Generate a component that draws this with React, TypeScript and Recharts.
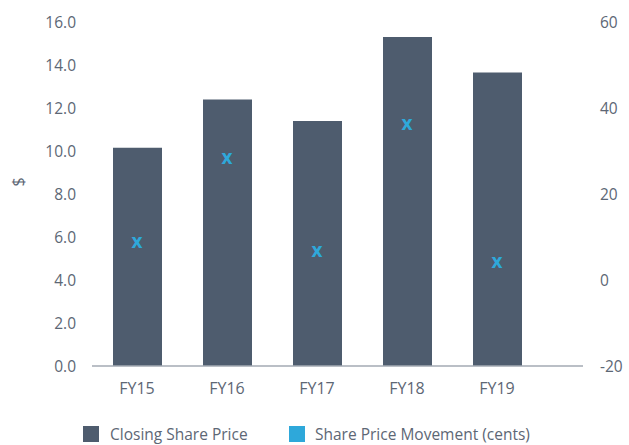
import React from 'react'
import {
  ComposedChart,
  Bar,
  Scatter,
  XAxis,
  YAxis,
  Legend,
} from 'recharts'

const years = ['FY15', 'FY16', 'FY17', 'FY18', 'FY19']
const closingPrice = [10.15, 12.4, 11.4, 15.3, 13.65]
const priceMovement = [9, 28.5, 7, 36.5, 4.5]
const leftTicks = [0, 2, 4, 6, 8, 10, 12, 14, 16]
const rightTicks = [-20, 0, 20, 40, 60]

const data = years.map((year, i) => ({
  year,
  closing: closingPrice[i],
  movement: priceMovement[i],
}))

const FONT = '"Open Sans", sans-serif'
const TEXT = '#5d6775'
const BAR = '#4e5c6e'
const MARK = '#2ea8da'

const CrossMark = (props: any) => {
  const { cx, cy } = props
  return (
    <text
      x={cx}
      y={cy}
      textAnchor="middle"
      dominantBaseline="central"
      fontFamily={FONT}
      fontWeight={700}
      fontSize={19}
      fill={MARK}
    >
      x
    </text>
  )
}

// rotated "$" unit label, a little above the middle of the axis
const DollarLabel = (props: any) => {
  const { viewBox } = props
  const x = viewBox.x + 18
  const y = viewBox.y + viewBox.height / 2 - 12
  return (
    <text
      x={x}
      y={y}
      transform={`rotate(-90 ${x} ${y})`}
      textAnchor="middle"
      dominantBaseline="central"
      fontFamily={FONT}
      fontSize={16}
      fill={TEXT}
    >
      $
    </text>
  )
}

const renderLegend = () => (
  <div style={{ position: 'relative', height: 24, fontFamily: FONT, fontSize: 15.5, color: TEXT }}>
    <span style={{ position: 'absolute', left: 83, top: 5, width: 16, height: 16, background: BAR }} />
    <span style={{ position: 'absolute', left: 110, top: 2, whiteSpace: 'nowrap' }}>Closing Share Price</span>
    <span style={{ position: 'absolute', left: 289, top: 5, width: 16, height: 16, background: MARK }} />
    <span style={{ position: 'absolute', left: 315, top: 2, whiteSpace: 'nowrap' }}>Share Price Movement (cents)</span>
  </div>
)

export default function App() {
  return (
    <div style={{ position: 'absolute', left: 0, top: 0 }}>
      <ComposedChart
        width={629}
        height={445}
        data={data}
        margin={{ top: 22, right: 0, left: 0, bottom: 0 }}
      >
        <XAxis
          dataKey="year"
          axisLine={{ stroke: '#a3aab3', strokeWidth: 1.5 }}
          tickLine={false}
          tick={{ fill: TEXT, fontSize: 16, fontFamily: FONT }}
          tickMargin={11}
          padding={{ left: 0, right: 41 }}
          height={55}
        />
        <YAxis
          yAxisId="left"
          domain={[0, 16]}
          ticks={leftTicks}
          tickFormatter={(v: number) => v.toFixed(1)}
          axisLine={false}
          tickLine={false}
          tick={{ fill: TEXT, fontSize: 15.5, fontFamily: FONT }}
          tickMargin={10}
          width={92}
          label={<DollarLabel />}
        />
        <YAxis
          yAxisId="right"
          orientation="right"
          domain={[-20, 60]}
          ticks={rightTicks}
          axisLine={false}
          tickLine={false}
          tick={{ fill: TEXT, fontSize: 15.5, fontFamily: FONT, textAnchor: 'start' }}
          tickMargin={11}
          width={46}
        />
        <Legend verticalAlign="bottom" content={renderLegend} />
        <Bar yAxisId="left" dataKey="closing" name="Closing Share Price" fill={BAR} barSize={49} isAnimationActive={false} />
        <Scatter yAxisId="right" dataKey="movement" name="Share Price Movement (cents)" fill={MARK} shape={CrossMark} isAnimationActive={false} />
      </ComposedChart>
    </div>
  )
}
